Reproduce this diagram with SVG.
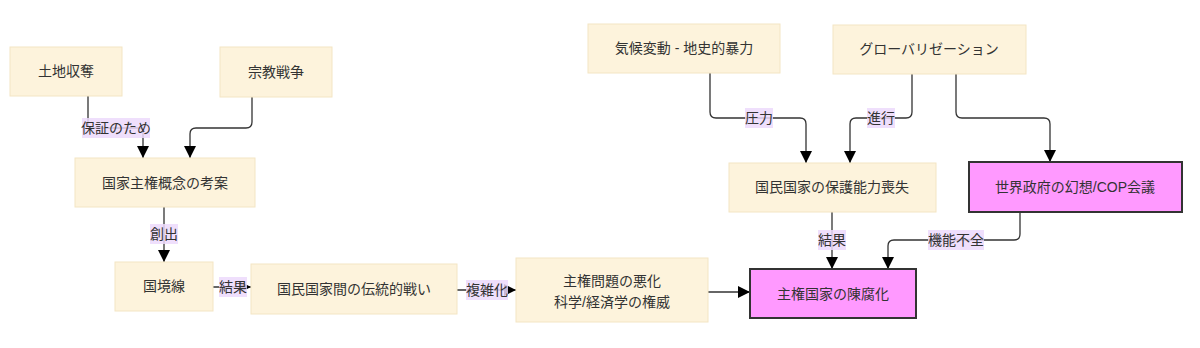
<svg xmlns="http://www.w3.org/2000/svg" width="1200" height="348" viewBox="0 0 1200 348">
<style>
.n{fill:#fdf3dc;stroke:#f3e5c4;stroke-width:1}
.h{fill:#ff99ff;stroke:#333;stroke-width:2}
text{font-family:"Liberation Sans","Noto Sans CJK JP",sans-serif;font-size:14px;fill:#333;text-anchor:middle;dominant-baseline:central}
.e{fill:none;stroke:#333;stroke-width:1.3}
.lb{fill:#ecd9fb;opacity:0.85}
</style>
<defs>
<marker id="a" viewBox="0 0 10 10" refX="10" refY="5" markerWidth="12" markerHeight="12" markerUnits="userSpaceOnUse" orient="auto">
<path d="M0,0 L10,5 L0,10 z" fill="#000"/>
</marker>
</defs>
<rect width="1200" height="348" fill="#fff"/>
<g id="edges">
<path class="e" d="M88,96 V124 Q88,128 92,128 H139 Q143,128 143,132 V158" marker-end="url(#a)"/>
<path class="e" d="M252,97 V122 Q252,128 246,128 H196 Q190,128 190,134 V158" marker-end="url(#a)"/>
<path class="e" d="M164,207 V262" marker-end="url(#a)"/>
<path class="e" d="M213,287 H251" marker-end="url(#a)"/>
<path class="e" d="M457,290 H516" marker-end="url(#a)"/>
<path class="e" d="M708,292 H750" marker-end="url(#a)"/>
<path class="e" d="M710,73 V112 Q710,118 716,118 H800 Q806,118 806,124 V163" marker-end="url(#a)"/>
<path class="e" d="M912,74 V112 Q912,118 906,118 H856 Q850,118 850,124 V163" marker-end="url(#a)"/>
<path class="e" d="M956,74 V112 Q956,118 962,118 H1044 Q1050,118 1050,124 V162" marker-end="url(#a)"/>
<path class="e" d="M832,212 V269" marker-end="url(#a)"/>
<path class="e" d="M1020,212 V234 Q1020,240 1014,240 H894 Q888,240 888,246 V269" marker-end="url(#a)"/>
</g>
<g id="edge-labels">
<rect class="lb" x="82" y="118" width="68" height="20"/><text x="116" y="128">保証のため</text>
<rect class="lb" x="150" y="224" width="28" height="20"/><text x="164" y="234">創出</text>
<rect class="lb" x="219" y="277" width="28" height="20"/><text x="233" y="287">結果</text>
<rect class="lb" x="466" y="280" width="42" height="20"/><text x="487" y="290">複雑化</text>
<rect class="lb" x="745" y="108" width="28" height="20"/><text x="759" y="118">圧力</text>
<rect class="lb" x="867" y="108" width="28" height="20"/><text x="881" y="118">進行</text>
<rect class="lb" x="818" y="230" width="28" height="20"/><text x="832" y="240">結果</text>
<rect class="lb" x="928" y="230" width="56" height="20"/><text x="956" y="240">機能不全</text>
</g>
<g id="n1"><rect class="n" x="10" y="47" width="112" height="49"/><text x="66" y="71">土地収奪</text></g>
<g id="n2"><rect class="n" x="220" y="47" width="112" height="50"/><text x="276" y="72">宗教戦争</text></g>
<g id="n3"><rect class="n" x="75" y="158" width="180" height="49"/><text x="165" y="183">国家主権概念の考案</text></g>
<g id="n4"><rect class="n" x="115" y="262" width="98" height="49"/><text x="164" y="286">国境線</text></g>
<g id="n5"><rect class="n" x="251" y="264" width="206" height="50"/><text x="354" y="289">国民国家間の伝統的戦い</text></g>
<g id="n6"><rect class="n" x="516" y="258" width="192" height="64"/><text x="612" y="281">主権問題の悪化</text><text x="612" y="302">科学/経済学の権威</text></g>
<g id="n7"><rect class="h" x="750" y="269" width="166" height="49"/><text x="833" y="294">主権国家の陳腐化</text></g>
<g id="n8"><rect class="n" x="588" y="24" width="192" height="49"/><text x="684" y="48">気候変動 - 地史的暴力</text></g>
<g id="n9"><rect class="n" x="833" y="25" width="193" height="49"/><text x="929" y="49">グローバリゼーション</text></g>
<g id="n10"><rect class="n" x="729" y="163" width="207" height="49"/><text x="832" y="187">国民国家の保護能力喪失</text></g>
<g id="n11"><rect class="h" x="969" y="162" width="213" height="50"/><text x="1075" y="187">世界政府の幻想/COP会議</text></g>
</svg>
